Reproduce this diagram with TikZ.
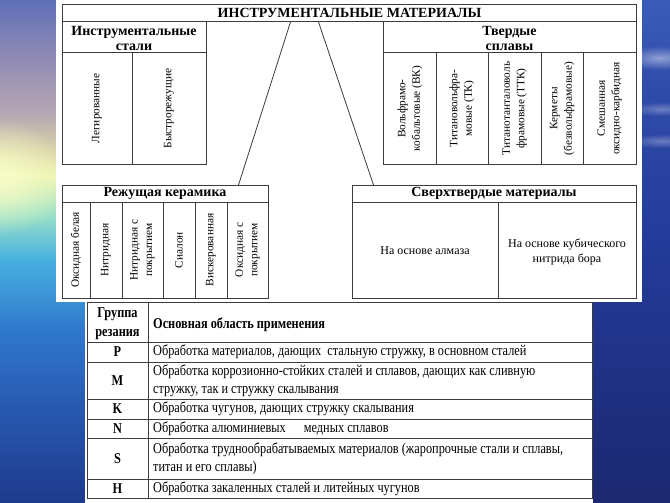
\documentclass[tikz,border=0pt]{standalone}
\usepackage{fontspec}
\setmainfont{Liberation Serif}
\newfontfamily\tablefont[FakeStretch=0.82]{Liberation Serif}
\usetikzlibrary{positioning,fadings}
\definecolor{FrameGrey}{HTML}{3C3C3C}
\definecolor{SeaL0}{HTML}{6070B8}
\definecolor{SeaL1}{HTML}{8A86B4}
\definecolor{SeaL2}{HTML}{B8A8B4}
\definecolor{SeaL3}{HTML}{D8D2A8}
\definecolor{SeaL4}{HTML}{EEF4B0}
\definecolor{SeaL5}{HTML}{98E0C8}
\definecolor{SeaL6}{HTML}{48B0E0}
\definecolor{SeaL7}{HTML}{2F78CC}
\definecolor{SeaL8}{HTML}{2858B0}
\definecolor{SeaL9}{HTML}{1E3A8C}
\definecolor{SeaR0}{HTML}{3A5CB8}
\definecolor{SeaR1}{HTML}{2F4AA8}
\definecolor{SeaR2}{HTML}{233A98}
\definecolor{SeaR3}{HTML}{1C2870}
\definecolor{SunGlow}{HTML}{F8FCC8}
\pgfdeclareverticalshading{sealeft}{100bp}{color(0bp)=(SeaL9); color(25bp)=(SeaL9);
  color(34.2bp)=(SeaL8); color(42.2bp)=(SeaL7); color(49.2bp)=(SeaL6);
  color(53.6bp)=(SeaL5); color(57.6bp)=(SeaL4); color(60.1bp)=(SeaL3);
  color(63.6bp)=(SeaL2); color(70bp)=(SeaL1); color(75bp)=(SeaL0); color(100bp)=(SeaL0)}
\pgfdeclareverticalshading{searight}{100bp}{color(0bp)=(SeaR3); color(25bp)=(SeaR3);
  color(50bp)=(SeaR2); color(65bp)=(SeaR1); color(75bp)=(SeaR0); color(100bp)=(SeaR0)}
\tikzfading[name=softglow, inner color=transparent!0, outer color=transparent!100]

\begin{document}
\begin{tikzpicture}[x=1pt,y=-1pt,
    box/.style={draw=FrameGrey, line width=1pt, anchor=north west, inner sep=0pt},
    rule/.style={draw=FrameGrey, line width=1pt},
    link/.style={draw=FrameGrey, line width=0.8pt},
    headtext/.style={font=\fontsize{14}{15}\selectfont\bfseries, align=center, inner sep=0pt},
    vtext/.style={rotate=90, font=\fontsize{11.3}{14.5}\selectfont, align=center, inner sep=0pt},
    htext/.style={font=\fontsize{12}{15}\selectfont, align=center, inner sep=0pt},
    tabhead/.style={font=\tablefont\fontsize{15}{19}\selectfont\bfseries, align=center, inner sep=0pt},
    tabtext/.style={font=\tablefont\fontsize{15}{17.5}\selectfont, align=left, anchor=west, inner sep=0pt}]
  \useasboundingbox (0,0) rectangle (670,503);
  % sea behind the slide
  \shade[shading=sealeft] (0,0) rectangle (95,503);
  \shade[shading=searight] (580,0) rectangle (670,503);
  \fill[SunGlow, path fading=softglow] (-70,120) rectangle (70,235);
  \fill[white, opacity=0.45, path fading=softglow] (620,46) rectangle (700,70);
  \fill[white, opacity=0.3, path fading=softglow] (625,102) rectangle (700,116);
  \fill[white, opacity=0.3, path fading=softglow] (625,134) rectangle (700,148);
  \fill[white] (56,0) rectangle (642,302);
  \fill[white] (85,302) rectangle (593,503);

  % title
  \node[box, minimum width=574pt, minimum height=17pt, font=\fontsize{14}{15}\selectfont\bfseries] (title) at (62,4) {ИНСТРУМЕНТАЛЬНЫЕ МАТЕРИАЛЫ};

  % tool steels
  \node[box, minimum width=144pt, minimum height=143pt] (steels) at (62,21) {};
  \draw[rule] (62,53) -- (206,53);
  \draw[rule] (132,53) -- (132,164);
  \node[headtext] (steelshead) at (134,38) {Инструментальные\\стали};
  \node[vtext] (alloyed) at (97,108.5) {Легированные};
  \node[vtext] (highspeed) at (169,108.5) {Быстрорежущие};

  % hard alloys
  \node[box, minimum width=253pt, minimum height=143pt] (hard) at (383,21) {};
  \draw[rule] (383,53) -- (636,53);
  \foreach \x in {436,488,541,583}
    \draw[rule] (\x,53) -- (\x,164);
  \node[headtext] (hardhead) at (509.5,38) {Твердые\\сплавы};
  \node[vtext] (hardVK) at (410,108.5) {Вольфрамо-\\кобальтовые (ВК)};
  \node[vtext] (hardTK) at (462,108.5) {Титановольфра-\\мовые (ТК)};
  \node[vtext] (hardTTK) at (514.5,108.5) {Титанотанталоволь\\фрамовые (ТТК)};
  \node[vtext] (cermet) at (562,108.5) {Керметы\\(безвольфрамовые)};
  \node[vtext] (mixed) at (609.5,108.5) {Смешанная\\оксидно-карбидная};

  % cutting ceramics
  \node[box, minimum width=206pt, minimum height=113pt] (ceramic) at (62,185) {};
  \draw[rule] (62,202) -- (268,202);
  \foreach \x in {90,122,163,195,227}
    \draw[rule] (\x,202) -- (\x,298);
  \node[headtext] (ceramichead) at (165,193.5) {Режущая керамика};
  \node[vtext] (oxide) at (76,250) {Оксидная белая};
  \node[vtext] (nitride) at (106,250) {Нитридная};
  \node[vtext] (nitridecoat) at (142.5,250) {Нитридная с\\покрытием};
  \node[vtext] (sialon) at (179,250) {Сиалон};
  \node[vtext] (whisker) at (211,250) {Вискерованная};
  \node[vtext] (oxidecoat) at (247.5,250) {Оксидная с\\покрытием};

  % superhard materials
  \node[box, minimum width=284pt, minimum height=113pt] (superhard) at (352,185) {};
  \draw[rule] (352,202) -- (636,202);
  \draw[rule] (498,202) -- (498,298);
  \node[headtext] (superhead) at (494,193.5) {Сверхтвердые материалы};
  \node[htext] (diamond) at (425,251) {На основе алмаза};
  \node[htext] (cbn) at (567,252) {На основе кубического\\нитрида бора};

  % links from the title
  \coordinate (linkL) at ([xshift=-59pt]title.south);
  \coordinate (linkR) at ([xshift=-31pt]title.south);
  \coordinate (endL) at ([xshift=73pt]ceramic.north);
  \coordinate (endR) at ([xshift=-121pt]superhard.north);
  \draw[link] (linkL) -- (endL);
  \draw[link] (linkR) -- (endR);

  % cutting groups table
  \node[box, minimum width=505pt, minimum height=196pt] (groups) at (87,302) {};
  \draw[rule] (148,302) -- (148,498);
  \foreach \y in {342,362,399,419,438,479}
    \draw[rule] (87,\y) -- (592,\y);
  \node[tabhead] (grouphead) at (117.5,323.5) {Группа\\резания};
  \node[tabhead, anchor=west] (areahead) at (153,325) {Основная область применения};
  \foreach \y/\g/\t in {352/P/{Обработка материалов, дающих\ \ стальную стружку, в основном сталей},
      380.5/M/{Обработка коррозионно-стойких сталей и сплавов, дающих как сливную\\стружку, так и стружку скалывания},
      409/K/{Обработка чугунов, дающих стружку скалывания},
      428.5/N/{Обработка алюминиевых\hspace{1.2em}медных сплавов},
      458.5/S/{Обработка труднообрабатываемых материалов (жаропрочные стали и сплавы,\\титан и его сплавы)},
      488.5/H/{Обработка закаленных сталей и литейных чугунов}} {
    \node[tabhead] (group\g) at (117.5,\y) {\g};
    \node[tabtext] (area\g) at (153,\y) {\t};
  }
\end{tikzpicture}
\end{document}
